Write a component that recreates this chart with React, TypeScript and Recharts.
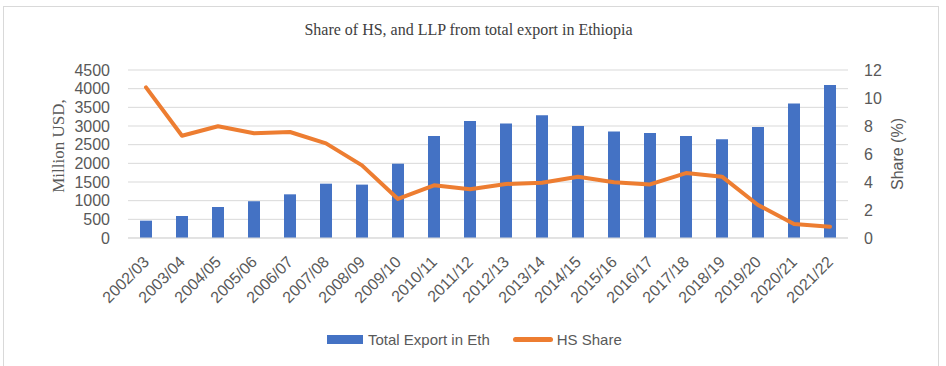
import React from "react";
import {
  Bar,
  CartesianGrid,
  ComposedChart,
  Line,
  XAxis,
  YAxis,
} from "recharts";

const YEARS = [
  "2002/03", "2003/04", "2004/05", "2005/06", "2006/07", "2007/08", "2008/09",
  "2009/10", "2010/11", "2011/12", "2012/13", "2013/14", "2014/15", "2015/16",
  "2016/17", "2017/18", "2018/19", "2019/20", "2020/21", "2021/22",
];

// Million USD
const TOTAL_EXPORT = [
  465, 590, 830, 985, 1170, 1455, 1430, 1990, 2735, 3135, 3070, 3290, 3000,
  2850, 2815, 2735, 2645, 2975, 3600, 4100,
];

// %
const HS_SHARE = [
  10.76, 7.3, 7.98, 7.48, 7.57, 6.76, 5.19, 2.79, 3.76, 3.48, 3.86, 3.95, 4.38,
  3.98, 3.83, 4.64, 4.38, 2.36, 1.0, 0.81,
];

const LEFT_TICKS = [0, 500, 1000, 1500, 2000, 2500, 3000, 3500, 4000, 4500];
const RIGHT_TICKS = [0, 2, 4, 6, 8, 10, 12];

const BLUE = "#4472C4";
const ORANGE = "#ED7D31";
const GRID = "#d9d9d9";
const TEXT = "#595959";
const SANS = "'Liberation Sans', Arial, sans-serif";
const SERIF = "'Liberation Serif', 'Times New Roman', serif";

const chartData = YEARS.map((year, i) => ({
  year,
  total: TOTAL_EXPORT[i],
  share: HS_SHARE[i],
}));

function YearTick({ x, y, payload }: any) {
  return (
    <text
      x={x + 4}
      y={y + 25}
      textAnchor="end"
      transform={`rotate(-45, ${x + 4}, ${y + 25})`}
      fill={TEXT}
      fontSize={16}
      fontFamily={SANS}
    >
      {payload.value}
    </text>
  );
}

export default function App() {
  return (
    <div
      style={{
        position: "absolute",
        left: 0,
        top: 0,
        width: 946,
        height: 366,
        background: "#fff",
        overflow: "hidden",
      }}
    >
      <div
        style={{
          position: "absolute",
          left: 3,
          top: 6,
          width: 936,
          height: 400,
          border: `1.5px solid ${GRID}`,
          boxSizing: "border-box",
        }}
      />
      <div
        style={{
          position: "absolute",
          left: 0,
          top: 21,
          width: 937,
          textAlign: "center",
          fontFamily: SERIF,
          fontSize: 16,
          color: "#404040",
        }}
      >
        Share of HS, and LLP from total export in Ethiopia
      </div>
      <div
        style={{
          position: "absolute",
          left: 59,
          top: 146,
          transform: "translate(-50%, -50%) rotate(-90deg)",
          whiteSpace: "nowrap",
          fontFamily: SERIF,
          fontSize: 17,
          color: TEXT,
        }}
      >
        Million USD,
      </div>
      <div
        style={{
          position: "absolute",
          left: 898,
          top: 154,
          transform: "translate(-50%, -50%) rotate(-90deg)",
          whiteSpace: "nowrap",
          fontFamily: SANS,
          fontSize: 16,
          color: TEXT,
        }}
      >
        Share (%)
      </div>

      <div style={{ position: "absolute", left: 0, top: 0 }}>
        <ComposedChart
          width={946}
          height={366}
          data={chartData}
          margin={{ top: 70, right: 38, left: 68, bottom: 98 }}
        >
          <CartesianGrid yAxisId="left" vertical={false} stroke={GRID} />
          <XAxis
            dataKey="year"
            interval={0}
            height={30}
            tickLine={false}
            tickSize={0}
            tickMargin={0}
            axisLine={{ stroke: GRID }}
            tick={<YearTick />}
          />
          <YAxis
            yAxisId="left"
            width={60}
            domain={[0, 4500]}
            ticks={LEFT_TICKS}
            interval={0}
            tickLine={false}
            axisLine={false}
            tickMargin={12}
            tick={{ fill: TEXT, fontSize: 16, fontFamily: SANS }}
          />
          <YAxis
            yAxisId="right"
            orientation="right"
            width={60}
            domain={[0, 12]}
            ticks={RIGHT_TICKS}
            interval={0}
            tickLine={false}
            axisLine={false}
            tickMargin={10}
            tick={{ fill: TEXT, fontSize: 16, fontFamily: SANS, textAnchor: "start" }}
          />
          <Bar
            yAxisId="left"
            dataKey="total"
            name="Total Export in Eth"
            fill={BLUE}
            barSize={12}
            isAnimationActive={false}
          />
          <Line
            yAxisId="right"
            type="linear"
            dataKey="share"
            name="HS Share"
            stroke={ORANGE}
            strokeWidth={4}
            strokeLinejoin="round"
            strokeLinecap="round"
            dot={false}
            activeDot={false}
            isAnimationActive={false}
          />
        </ComposedChart>
      </div>

      <div
        style={{
          position: "absolute",
          left: 327,
          top: 331,
          display: "flex",
          alignItems: "center",
          fontFamily: SANS,
          fontSize: 15,
          color: TEXT,
          whiteSpace: "nowrap",
        }}
      >
        <span style={{ display: "inline-block", width: 36, height: 9, background: BLUE }} />
        <span style={{ marginLeft: 5 }}>Total Export in Eth</span>
        <span
          style={{
            display: "inline-block",
            width: 40,
            height: 5,
            borderRadius: 3,
            background: ORANGE,
            marginLeft: 23,
          }}
        />
        <span style={{ marginLeft: 4 }}>HS Share</span>
      </div>
    </div>
  );
}
